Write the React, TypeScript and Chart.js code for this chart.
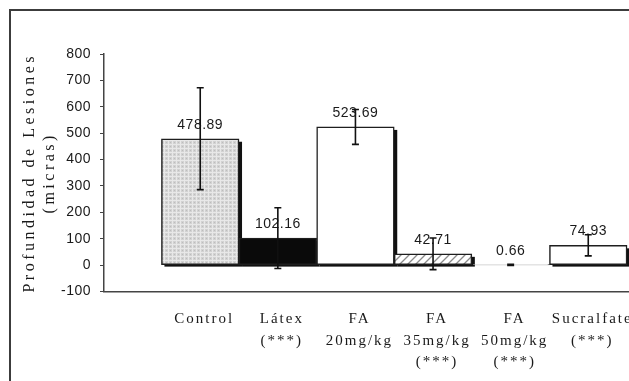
import React, { useEffect, useRef } from 'react';
import { Chart, registerables } from 'chart.js';

Chart.register(...registerables);

// ---- Data ----
const categories: string[][] = [
  ['Control'],
  ['Látex', '(***)'],
  ['FA', '20mg/kg'],
  ['FA', '35mg/kg', '(***)'],
  ['FA', '50mg/kg', '(***)'],
  ['Sucralfate', '(***)'],
];
const values: number[] = [478.89, 102.16, 523.69, 42.71, 0.66, 74.93];
const errors: number[] = [193, 115, 66, 60, 2, 40];
const valueLabels: string[] = ['478.89', '102.16', '523.69', '42.71', '0.66', '74.93'];
const yTitle: string[] = ['Profundidad de Lesiones', '(micras)'];
const yMin = -100;
const yMax = 800;
const yStep = 100;

function makeDotPattern(): CanvasPattern | string {
  const c = document.createElement('canvas');
  c.width = 4;
  c.height = 4;
  const g = c.getContext('2d');
  if (!g) return '#d4d4d4';
  g.fillStyle = '#d2d2d2';
  g.fillRect(0, 0, 4, 4);
  g.fillStyle = '#e8e8e8';
  g.fillRect(0, 0, 4, 1);
  g.fillRect(0, 0, 1, 4);
  g.fillStyle = '#bdbdbd';
  g.fillRect(2, 2, 1, 1);
  return g.createPattern(c, 'repeat') || '#d4d4d4';
}

function makeHatchPattern(): CanvasPattern | string {
  const c = document.createElement('canvas');
  c.width = 8;
  c.height = 8;
  const g = c.getContext('2d');
  if (!g) return '#eeeeee';
  g.fillStyle = '#ffffff';
  g.fillRect(0, 0, 8, 8);
  g.strokeStyle = '#8a8a8a';
  g.lineWidth = 1.3;
  g.beginPath();
  g.moveTo(0, 8);
  g.lineTo(8, 0);
  g.moveTo(-2, 2);
  g.lineTo(2, -2);
  g.moveTo(6, 10);
  g.lineTo(10, 6);
  g.stroke();
  return g.createPattern(c, 'repeat') || '#eeeeee';
}

const spacingPlugin = {
  id: 'letterSpacing',
  beforeDraw(chart: any) {
    const ctx = chart.ctx as any;
    ctx.letterSpacing = '0.5px';
    const xs = chart.scales.x as any;
    if (xs && !xs.__patched) {
      const orig = xs.drawLabels.bind(xs);
      xs.drawLabels = (area: any) => {
        const prev = ctx.letterSpacing;
        ctx.letterSpacing = '2px';
        orig(area);
        ctx.letterSpacing = prev;
      };
      xs.__patched = true;
    }
    const ys = chart.scales.y as any;
    if (ys && !ys.__patched) {
      const origT = ys.drawTitle.bind(ys);
      ys.drawTitle = () => {
        const prev = ctx.letterSpacing;
        ctx.letterSpacing = '3.5px';
        origT();
        ctx.letterSpacing = prev;
      };
      ys.__patched = true;
    }
  },
  afterDraw(chart: any) {
    (chart.ctx as any).letterSpacing = '0px';
  },
};

const shadowPlugin = {
  id: 'barShadow',
  beforeDatasetsDraw(chart: any) {
    const ctx = chart.ctx;
    const meta = chart.getDatasetMeta(0);
    ctx.save();
    ctx.fillStyle = '#111111';
    meta.data.forEach((el: any) => {
      const { x, y, base, width } = el.getProps(['x', 'y', 'base', 'width'], true);
      if (Math.abs(base - y) < 2) return;
      ctx.fillRect(x - width / 2 + 3, y + 3, width, base - y - 1);
    });
    ctx.restore();
  },
};

const errorLabelPlugin = {
  id: 'errorLabels',
  afterDatasetsDraw(chart: any) {
    const ctx = chart.ctx;
    const ys = chart.scales.y;
    const meta = chart.getDatasetMeta(0);
    ctx.save();
    meta.data.forEach((el: any, i: number) => {
      const { x, y } = el.getProps(['x', 'y'], true);
      ctx.font = '14px "Liberation Sans", Arial, sans-serif';
      ctx.fillStyle = '#1a1a1a';
      ctx.textAlign = 'center';
      ctx.textBaseline = 'middle';
      (ctx as any).letterSpacing = '0.5px';
      ctx.fillText(valueLabels[i], x, y - 14);
      const yTop = ys.getPixelForValue(values[i] + errors[i]);
      const yBot = ys.getPixelForValue(values[i] - errors[i]);
      ctx.strokeStyle = '#111111';
      ctx.lineWidth = 1.6;
      ctx.beginPath();
      ctx.moveTo(x, yTop);
      ctx.lineTo(x, yBot);
      ctx.moveTo(x - 3.5, yTop);
      ctx.lineTo(x + 3.5, yTop);
      ctx.moveTo(x - 3.5, yBot);
      ctx.lineTo(x + 3.5, yBot);
      ctx.stroke();
    });
    ctx.restore();
  },
};

export default function App() {
  const canvasRef = useRef<HTMLCanvasElement | null>(null);

  useEffect(() => {
    if (!canvasRef.current) return;
    const fills = [makeDotPattern(), '#0a0a0a', '#ffffff', makeHatchPattern(), '#ffffff', '#ffffff'];
    const chart = new Chart(canvasRef.current, {
      type: 'bar',
      data: {
        datasets: [
          {
            data: values.map((v, i) => ({ x: i, y: v })),
            backgroundColor: fills as any,
            borderColor: '#1e1e1e',
            borderWidth: 1.5,
            borderSkipped: false,
            barPercentage: 1,
            categoryPercentage: 1,
          },
        ],
      },
      options: {
        animation: false,
        responsive: true,
        maintainAspectRatio: false,
        layout: { padding: { top: 54, right: 0, left: 0, bottom: 0 } },
        plugins: { legend: { display: false }, tooltip: { enabled: false } },
        scales: {
          x: {
            type: 'linear',
            offset: false,
            min: -1.24,
            max: 5.525,
            grid: { display: false, drawTicks: false, offset: false },
            border: { display: true, color: '#444444', width: 1.5 },
            afterBuildTicks: (s: any) => {
              s.ticks = categories.map((_, i) => ({ value: i }));
            },
            afterFit: (s: any) => {
              s.height = 89.5;
              s.paddingLeft = 0;
              s.paddingRight = 0;
            },
            ticks: {
              autoSkip: false,
              maxRotation: 0,
              minRotation: 0,
              padding: 17,
              labelOffset: 4,
              color: '#1a1a1a',
              font: { family: '"Liberation Serif", "Times New Roman", serif', size: 15, lineHeight: 1.43 },
              callback: (v: any) => categories[v as number] ?? '',
            },
          },
          y: {
            min: yMin,
            max: yMax,
            ticks: {
              stepSize: yStep,
              padding: 9,
              color: '#1a1a1a',
              font: { family: '"Liberation Sans", Arial, sans-serif', size: 14 },
            },
            grid: { drawOnChartArea: false, drawTicks: true, tickLength: 4, color: '#444444', lineWidth: 1 },
            border: { display: true, color: '#444444', width: 1.5 },
            title: {
              display: true,
              text: yTitle,
              color: '#1a1a1a',
              font: { family: '"Liberation Serif", "Times New Roman", serif', size: 16, lineHeight: 1.25 },
              padding: { top: 20, bottom: 0 },
            },
            afterFit: (s: any) => {
              s.width = 104;
            },
          },
        },
      },
      plugins: [spacingPlugin, shadowPlugin, errorLabelPlugin],
    });
    return () => chart.destroy();
  }, []);

  return (
    <div style={{ position: 'fixed', left: 0, top: 0, width: 629, height: 381, background: '#ffffff', overflow: 'hidden' }}>
      <div
        style={{
          position: 'absolute',
          left: 9,
          top: 9,
          width: 700,
          height: 500,
          borderTop: '2px solid #3c3c3c',
          borderLeft: '2px solid #3c3c3c',
        }}
      />
      <div style={{ position: 'absolute', left: 0, top: 0, width: 629, height: 381 }}>
        <canvas ref={canvasRef} />
      </div>
    </div>
  );
}
